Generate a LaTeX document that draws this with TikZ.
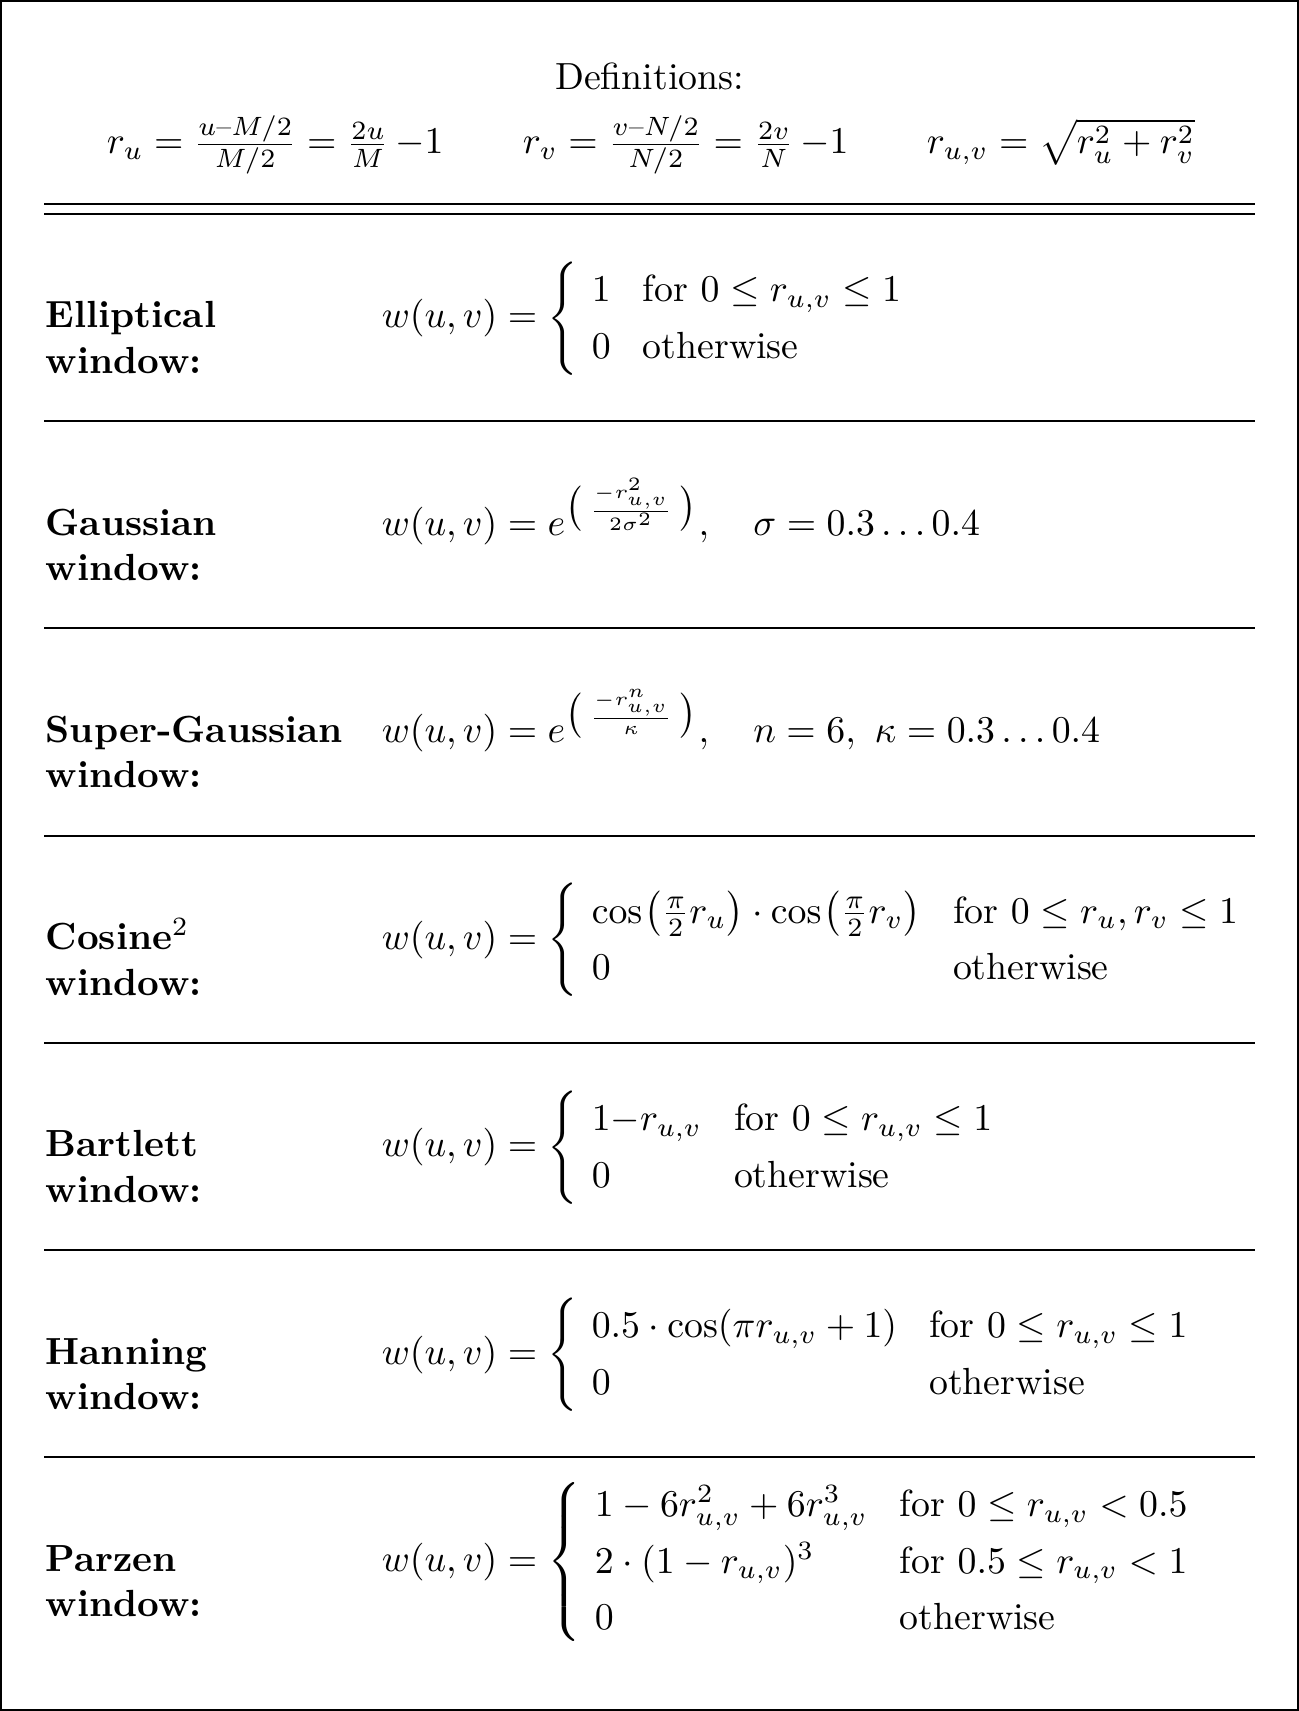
\documentclass[tikz,border=0pt]{standalone}
\usepackage{amsmath}
\newcommand{\wcases}[1]{\left\{\def\arraystretch{1.25}\begin{array}{@{\hspace{3.6pt}}l@{\hspace{8.5pt}}l@{}}#1\end{array}\right.}
\newcommand{\bigpar}[1]{\hbox{$\left#1\vbox to 8.5pt{}\right.\nulldelimiterspace0pt$}}
\begin{document}
\begin{tikzpicture}[x=0.2646pt,y=-0.2646pt,
  lbl/.style={anchor=base west,inner sep=0pt,font=\bfseries},
  fml/.style={anchor=base west,inner sep=0pt},
  ctr/.style={anchor=base,inner sep=0pt},
  rl/.style={line width=0.55pt}]
\useasboundingbox (0,0) rectangle (1299,1711);
\draw[line width=0.55pt] (1,1) rectangle (1298,1710);
% header
\node[ctr] (def) at (649.5,90) {Definitions:};
\node[fml] (dru) at (106,154) {$r_u = \frac{u\text{--}M/2}{M/2} = \frac{2u}{M}\,{-}1$};
\node[fml] (drv) at (522,154) {$r_v = \frac{v\text{--}N/2}{N/2} = \frac{2v}{N}\,{-}1$};
\node[fml] (druv) at (926,154) {$r_{u,v} = \sqrt{r_u^2 + r_v^2}$};
\coordinate (dl1) at (44,204); \coordinate (dr1) at (1255,204);
\coordinate (dl2) at (44,214); \coordinate (dr2) at (1255,214);
\draw[rl] (dl1) -- (dr1);
\draw[rl] (dl2) -- (dr2);
% rules
\foreach \i in {0,...,5}{
  \coordinate (ra\i) at (44,{421.2+207.2*\i});
  \coordinate (rb\i) at (1255,{421.2+207.2*\i});
  \draw[rl] (ra\i) -- (rb\i);
}
% row 0: Elliptical
\node[lbl] (l0a) at (45,328) {Elliptical};
\node[lbl] (l0b) at (45,373.4) {window:};
\node[fml] (f0) at (381,328) {$w(u,v) = \wcases{1 & \mbox{for }0 \le r_{u,v} \le 1\\ 0 & \mbox{otherwise}}$};
% row 1: Gaussian
\node[lbl] (l1a) at (45,535.2) {Gaussian};
\node[lbl] (l1b) at (45,580.6) {window:};
\node[fml] (f1) at (381,535.2) {$w(u,v) = e^{\mathopen{\bigpar(}\mkern4mu\frac{-r^2_{u,v}}{2\sigma^2}\mkern4mu\mathclose{\bigpar)}},\quad \sigma = 0.3\ldots0.4$};
% row 2: Super-Gaussian
\node[lbl] (l2a) at (45,742.4) {Super-Gaussian};
\node[lbl] (l2b) at (45,787.8) {window:};
\node[fml] (f2) at (381,742.4) {$w(u,v) = e^{\mathopen{\bigpar(}\mkern4mu\frac{-r^n_{u,v}}{\kappa}\mkern4mu\mathclose{\bigpar)}},\quad n = 6,\ \kappa = 0.3\ldots0.4$};
% row 3: Cosine^2
\node[lbl] (l3a) at (45,949.6) {Cosine$^2$};
\node[lbl] (l3b) at (45,995) {window:};
\node[fml] (f3) at (381,949.6) {$w(u,v) = \wcases{\cos\mkern-2mu\left(\frac{\pi}{2}r_u\right)\cdot\cos\mkern-2mu\left(\frac{\pi}{2}r_v\right) & \mbox{for }0 \le r_u, r_v \le 1\\ 0 & \mbox{otherwise}}$};
% row 4: Bartlett
\node[lbl] (l4a) at (45,1156.8) {Bartlett};
\node[lbl] (l4b) at (45,1202.2) {window:};
\node[fml] (f4) at (381,1156.8) {$w(u,v) = \wcases{1{-}r_{u,v} & \mbox{for }0 \le r_{u,v} \le 1\\ 0 & \mbox{otherwise}}$};
% row 5: Hanning
\node[lbl] (l5a) at (45,1364) {Hanning};
\node[lbl] (l5b) at (45,1409.4) {window:};
\node[fml] (f5) at (381,1364) {$w(u,v) = \wcases{0.5\cdot\cos(\pi r_{u,v}+1) & \mbox{for }0 \le r_{u,v} \le 1\\ 0 & \mbox{otherwise}}$};
% row 6: Parzen
\node[lbl] (l6a) at (45,1571.2) {Parzen};
\node[lbl] (l6b) at (45,1616.6) {window:};
\node[fml] (f6) at (381,1571.2) {$w(u,v) = \wcases{1-6r^2_{u,v}+6r^3_{u,v} & \mbox{for }0 \le r_{u,v} < 0.5\\ 2\cdot(1-r_{u,v})^3 & \mbox{for }0.5 \le r_{u,v} < 1\\ 0 & \mbox{otherwise}}$};
\end{tikzpicture}
\end{document}
